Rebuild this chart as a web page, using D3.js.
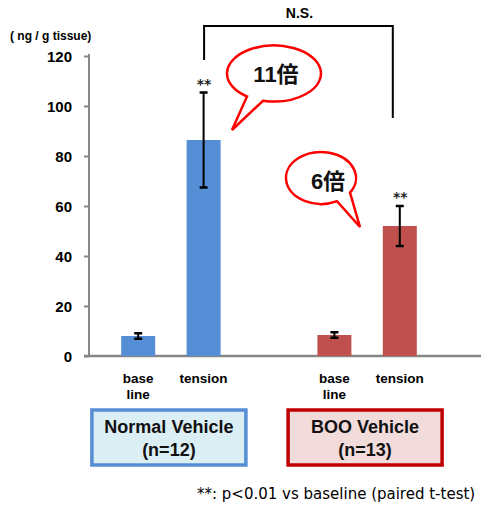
<!DOCTYPE html>
<html><head><meta charset="utf-8">
<script src="https://cdn.jsdelivr.net/npm/d3@7"></script>
<style>html,body{margin:0;padding:0;background:#fff;overflow:hidden}</style>
</head><body>
<script>
// ---- data ----
const categories = ["N-base", "N-tension", "gap", "B-base", "B-tension"];
const xLabels = [["base", "line"], ["tension"], [], ["base", "line"], ["tension"]];
const values = [8, 86.4, null, 8.4, 52];
const errors = [1.1, 19, null, 1.1, 8];
const sigMarks = ["", "**", "", "", "**"];
const barGroup = [0, 0, null, 1, 1];
const yTicks = [0, 20, 40, 60, 80, 100, 120];
const groupNames = ["Normal Vehicle", "BOO Vehicle"];
const groupN = ["(n=12)", "(n=13)"];
const foldLabels = ["11倍", "6倍"];
const unitLabel = "( ng / g tissue)";
const nsLabel = "N.S.";
const footnote = "**: p<0.01 vs baseline (paired t-test)";

// ---- styles ----
const barColors = ["#558ED5", "#C0504D"];
const boxStroke = ["#558ED5", "#C00000"];
const boxFill = ["#DBEEF4", "#F2DCDB"];
const axisColor = "#868686";
const font = "'Liberation Sans', Arial, 'Noto Sans CJK JP', sans-serif";

const W = 481, H = 510;
const svg = d3.select("body").append("svg").attr("width", W).attr("height", H)
  .style("font-family", font);

const x = d3.scaleBand().domain(categories).range([105.5, 432.5]).padding(0);
const y = d3.scaleLinear().domain([0, 120]).range([356, 56]);
const barW = 34;

// y axis
const yAxis = svg.append("g").attr("transform", "translate(89,0)")
  .call(d3.axisLeft(y).tickValues(yTicks).tickSize(5).tickPadding(12).tickSizeOuter(0));
yAxis.select(".domain").attr("stroke", axisColor).attr("stroke-width", 2)
  .attr("d", `M0,${y(120) - 2}V${y(0)}`);
yAxis.selectAll(".tick line").attr("stroke", axisColor).attr("stroke-width", 2);
yAxis.selectAll(".tick text").attr("fill", "#000").style("font-size", "15px")
  .style("font-weight", "bold").style("font-family", font).attr("dy", "0.36em");

// x axis baseline
svg.append("line").attr("x1", 84).attr("x2", W).attr("y1", y(0)).attr("y2", y(0))
  .attr("stroke", axisColor).attr("stroke-width", 2.5);

// unit label
svg.append("text").attr("x", 10).attr("y", 40).text(unitLabel)
  .style("font-size", "12px").style("font-weight", "bold");

// bars
const idx = d3.range(categories.length).filter(i => values[i] != null);
svg.append("g").selectAll("rect").data(idx).join("rect")
  .attr("x", i => x(categories[i]) + x.bandwidth() / 2 - barW / 2)
  .attr("width", barW)
  .attr("y", i => y(values[i]))
  .attr("height", i => y(0) - y(values[i]))
  .attr("fill", i => barColors[barGroup[i]]);

// error bars
const eg = svg.append("g").attr("stroke", "#000").attr("stroke-width", 2);
idx.forEach(i => {
  const cx = x(categories[i]) + x.bandwidth() / 2;
  const top = y(values[i] + errors[i]), bot = y(values[i] - errors[i]);
  eg.append("line").attr("x1", cx).attr("x2", cx).attr("y1", top).attr("y2", bot);
  eg.append("line").attr("x1", cx - 4).attr("x2", cx + 4).attr("y1", top).attr("y2", top).attr("stroke-width", 2.5);
  eg.append("line").attr("x1", cx - 4).attr("x2", cx + 4).attr("y1", bot).attr("y2", bot).attr("stroke-width", 2.5);
  if (sigMarks[i]) {
    svg.append("text").attr("x", cx + 0.5).attr("y", top - 4).attr("text-anchor", "middle")
      .text(sigMarks[i]).style("font-size", "14px").style("font-weight", "bold")
      .style("font-family", "'DejaVu Sans', sans-serif").attr("fill", "#222");
  }
});

// x labels
idx.forEach(i => {
  const cx = x(categories[i]) + x.bandwidth() / 2;
  xLabels[i].forEach((t, k) => {
    svg.append("text").attr("x", cx).attr("y", 383 + k * 16).attr("text-anchor", "middle")
      .text(t).style("font-size", "13.5px").style("font-weight", "bold");
  });
});

// N.S. bracket
const tIdxA = 1, tIdxB = 4;
const bxA = x(categories[tIdxA]) + x.bandwidth() / 2 + 0.5;
const bxB = x(categories[tIdxB]) + x.bandwidth() / 2 - 7;
svg.append("path").attr("fill", "none").attr("stroke", "#000").attr("stroke-width", 2)
  .attr("d", `M${bxA},60V26H${bxB}V118`);
svg.append("text").attr("x", (bxA + bxB) / 2 + 1).attr("y", 18).attr("text-anchor", "middle")
  .text(nsLabel).style("font-size", "14px").style("font-weight", "bold");

// speech bubbles
function bubble(cx, cy, rx, ry, ax, bx, tip) {
  const ay = cy + ry * Math.sqrt(1 - ((ax - cx) / rx) ** 2);
  const by = cy + ry * Math.sqrt(1 - ((bx - cx) / rx) ** 2);
  return `M${ax},${ay}A${rx},${ry} 0 1 1 ${bx},${by}L${tip[0]},${tip[1]}Z`;
}
const bubbles = [
  {cx: 274, cy: 73.5, rx: 47, ry: 28, ax: 247, bx: 263, tip: [232, 130], tx: 276, ty: 74},
  {cx: 321, cy: 178, rx: 35, ry: 26, ax: 337, bx: 350, tip: [360, 227], tx: 328, ty: 181}
];
bubbles.forEach((b, k) => {
  svg.append("path").attr("d", bubble(b.cx, b.cy, b.rx, b.ry, b.ax, b.bx, b.tip))
    .attr("fill", "#fff").attr("stroke", "#f00").attr("stroke-width", 2.5)
    .attr("stroke-linejoin", "miter");
  svg.append("text").attr("x", b.tx).attr("y", b.ty).attr("text-anchor", "middle")
    .attr("dominant-baseline", "central").text(foldLabels[k])
    .style("font-size", "22px").style("font-weight", "bold").attr("fill", "#111");
});

// group boxes
const groupCenters = [[0, 1], [3, 4]].map(p =>
  (x(categories[p[0]]) + x(categories[p[1]]) + x.bandwidth()) / 2);
groupCenters.forEach((gc, k) => {
  const bw = 154, bh = 55;
  svg.append("rect").attr("x", gc - bw / 2 - 2).attr("y", 410).attr("width", bw).attr("height", bh)
    .attr("fill", boxFill[k]).attr("stroke", boxStroke[k]).attr("stroke-width", 3.5);
  svg.append("text").attr("x", gc - 2).attr("y", 433).attr("text-anchor", "middle")
    .text(groupNames[k]).style("font-size", "18px").style("font-weight", "bold").attr("fill", "#111");
  svg.append("text").attr("x", gc - 2).attr("y", 456).attr("text-anchor", "middle")
    .text(groupN[k]).style("font-size", "18px").style("font-weight", "bold").attr("fill", "#111");
});

// footnote
svg.append("text").attr("x", 197).attr("y", 499).text(footnote)
  .style("font-size", "15px").style("font-family", "'DejaVu Sans', sans-serif").attr("fill", "#000");
</script>
</body></html>
